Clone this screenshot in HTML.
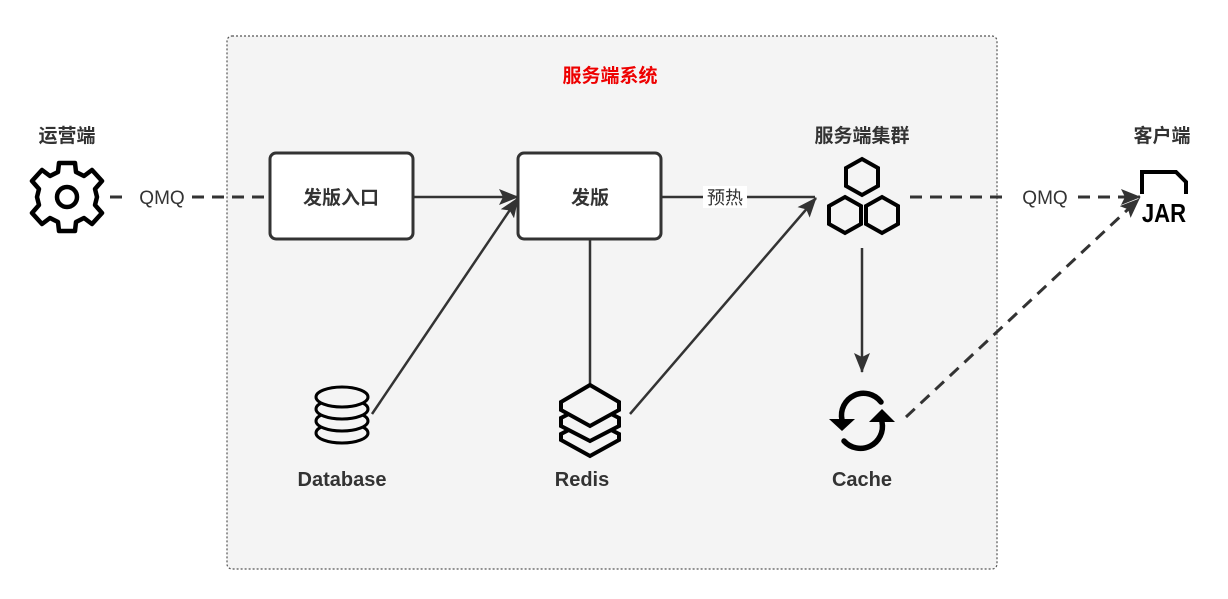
<!DOCTYPE html>
<html><head><meta charset="utf-8"><style>
html,body{margin:0;padding:0;background:#fff;}
svg{display:block;font-family:"Liberation Sans","Noto Sans CJK SC",sans-serif;}
</style></head><body>
<svg width="1228" height="599" viewBox="0 0 1228 599" xmlns="http://www.w3.org/2000/svg">
<defs>
<marker id="ah2" markerWidth="20" markerHeight="18" refX="19" refY="9" orient="auto" markerUnits="userSpaceOnUse" viewBox="0 0 20 18">
<path d="M0,1 L20,9 L0,17 L4,9 z" fill="#333"/></marker>
</defs>
<rect x="227" y="36" width="770" height="533" rx="5" fill="#f4f4f4" stroke="#555" stroke-width="1.2" stroke-dasharray="2,2"/>
<text x="610" y="82" text-anchor="middle" font-size="19" font-weight="bold" fill="#e00">服务端系统</text>

<text x="67" y="142" text-anchor="middle" font-size="19" font-weight="bold" fill="#333">运营端</text>
<text x="862" y="142" text-anchor="middle" font-size="19" font-weight="bold" fill="#333">服务端集群</text>
<text x="1162" y="142" text-anchor="middle" font-size="19" font-weight="bold" fill="#333">客户端</text>

<!-- gear -->
<g transform="translate(67,197)" fill="none" stroke="#000" stroke-width="4.5" stroke-linejoin="round">
<path d="M-8,-34 L8,-34 L9,-25 L17,-21 L25,-27 L35,-16 L28,-8 L30,0 L28,8 L35,16 L25,27 L17,21 L9,25 L8,34 L-8,34 L-9,25 L-17,21 L-25,27 L-35,16 L-28,8 L-30,0 L-28,-8 L-35,-16 L-25,-27 L-17,-21 L-9,-25 Z"/>
<circle r="10"/>
</g>

<line x1="110" y1="197" x2="130" y2="197" stroke="#333" stroke-width="3" stroke-dasharray="12,8"/>
<line x1="192" y1="197" x2="270" y2="197" stroke="#333" stroke-width="3" stroke-dasharray="12,8"/>
<text x="162" y="204" text-anchor="middle" font-size="19" fill="#333">QMQ</text>

<rect x="270" y="153" width="143" height="86" rx="6" fill="#fff" stroke="#333" stroke-width="3"/>
<text x="341" y="204" text-anchor="middle" font-size="19" font-weight="bold" fill="#333">发版入口</text>
<rect x="518" y="153" width="143" height="86" rx="6" fill="#fff" stroke="#333" stroke-width="3"/>
<text x="590" y="204" text-anchor="middle" font-size="19" font-weight="bold" fill="#333">发版</text>

<line x1="413" y1="197" x2="518" y2="197" stroke="#333" stroke-width="2.5" marker-end="url(#ah2)"/>
<line x1="661" y1="197" x2="815" y2="197" stroke="#333" stroke-width="2.5"/>
<rect x="703" y="186" width="44" height="22" fill="#fff"/>
<text x="725" y="204" text-anchor="middle" font-size="18" fill="#333">预热</text>

<line x1="372" y1="414" x2="518" y2="198" stroke="#333" stroke-width="2.5" marker-end="url(#ah2)"/>
<line x1="590" y1="239" x2="590" y2="384" stroke="#333" stroke-width="2.5"/>
<line x1="630" y1="414" x2="816" y2="198" stroke="#333" stroke-width="2.5" marker-end="url(#ah2)"/>

<!-- database -->
<g fill="#f4f4f4" stroke="#000" stroke-width="3">
<ellipse cx="342" cy="433" rx="26" ry="10"/>
<ellipse cx="342" cy="421" rx="26" ry="10"/>
<ellipse cx="342" cy="409" rx="26" ry="10"/>
<ellipse cx="342" cy="397" rx="26" ry="10"/>
</g>
<!-- redis layers -->
<g fill="#f4f4f4" stroke="#000" stroke-width="4" stroke-linejoin="miter">
<path d="M590,419 L619,434 L619,440 L590,456 L561,440 L561,434 Z"/>
<path d="M590,403 L619,418 L619,426 L590,441 L561,426 L561,418 Z"/>
<path d="M590,385 L619,402 L619,410 L590,426 L561,410 L561,402 Z"/>
</g>
<!-- hex cluster -->
<g fill="none" stroke="#000" stroke-width="4">
<path d="M862,159 L878,168 L878,186 L862,195 L846,186 L846,168 Z"/>
<path d="M845,197 L861,206 L861,224 L845,233 L829,224 L829,206 Z"/>
<path d="M882,197 L898,206 L898,224 L882,233 L866,224 L866,206 Z"/>
</g>
<line x1="862" y1="248" x2="862" y2="372" stroke="#333" stroke-width="2.5" marker-end="url(#ah2)"/>
<!-- cache sync icon -->
<g fill="none" stroke="#000" stroke-width="5.5" stroke-linecap="round">
<path d="M881,402 A22,22 0 0 0 842,420"/>
<path d="M844,441 A22,22 0 0 0 882,422"/>
</g>
<path d="M829,419 L855,419 L842,431 Z" fill="#000"/>
<path d="M869,422 L895,422 L882,409 Z" fill="#000"/>

<text x="342" y="486" text-anchor="middle" font-size="20" font-weight="bold" fill="#333">Database</text>
<text x="582" y="486" text-anchor="middle" font-size="20" font-weight="bold" fill="#333">Redis</text>
<text x="862" y="486" text-anchor="middle" font-size="20" font-weight="bold" fill="#333">Cache</text>

<line x1="910" y1="197" x2="1010" y2="197" stroke="#333" stroke-width="3" stroke-dasharray="12,8"/>
<line x1="1078" y1="197" x2="1140" y2="197" stroke="#333" stroke-width="3" stroke-dasharray="12,8" marker-end="url(#ah2)"/>
<text x="1045" y="204" text-anchor="middle" font-size="19" fill="#333">QMQ</text>
<line x1="906" y1="417" x2="1139" y2="199" stroke="#333" stroke-width="3" stroke-dasharray="12,8" marker-end="url(#ah2)"/>

<!-- JAR -->
<path d="M1142,194 L1142,172 L1176,172 L1186,182 L1186,194" fill="none" stroke="#000" stroke-width="4"/>
<text x="1164" y="222" text-anchor="middle" font-size="26" font-weight="bold" fill="#000" transform="translate(1164,0) scale(0.85,1) translate(-1164,0)">JAR</text>
</svg>
</body></html>
